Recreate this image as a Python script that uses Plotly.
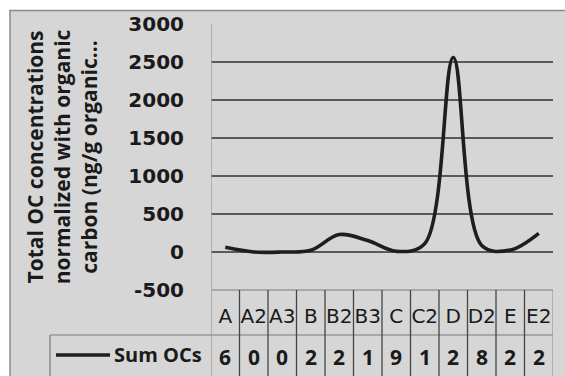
import plotly.graph_objects as go

# ---- data ----
categories = ["A", "A2", "A3", "B", "B2", "B3", "C", "C2", "D", "D2", "E", "E2"]
sum_ocs = [62, 0.5, 0.3, 22, 230, 150, 9, 110, 2560, 85, 25, 245]
series_name = "Sum OCs"
y_tickvals = [-500, 0, 500, 1000, 1500, 2000, 2500, 3000]
y_ticktext = ["-500", "0", "500", "1000", "1500", "2000", "2500", "3000"]
y_title = "Total OC concentrations<br>normalized with organic<br>carbon (ng/g organic..."

# table cell text (Excel truncates the numbers in the narrow columns)
cell_text = [f"{v:g}"[0] for v in sum_ocs]

W, H = 565, 376
ML, MR, MT, MB = 211, 12, 24, 86
PW, PH = W - ML - MR, H - MT - MB


def px_x(px):
    return (px - ML) / PW


def px_y(py):
    return (H - MB - py) / PH


BG = "#d6d6d6"
GRID = "#5a5a5a"
TABLE = "#7a7a7a"
TXT = "#1a1a1a"

fig = go.Figure()
fig.add_trace(go.Scatter(
    x=categories, y=sum_ocs, mode="lines", name=series_name,
    line=dict(color="#1e1e1e", width=3.6, shape="spline", smoothing=1.0),
    showlegend=False,
))

shapes = []
# outer gray chart area
shapes.append(dict(type="rect", xref="paper", yref="paper", layer="below",
                   x0=px_x(10), x1=px_x(566), y0=px_y(10.5), y1=px_y(377),
                   fillcolor=BG, line=dict(color="#8a8a8a", width=1.5)))
# table horizontal lines
y_top = px_y(290)
y_mid = px_y(335)
y_bot = px_y(377)
shapes.append(dict(type="line", xref="x", yref="paper", x0=-0.5, x1=len(categories) - 0.5,
                   y0=y_top, y1=y_top, line=dict(color=TABLE, width=1.2)))
shapes.append(dict(type="line", xref="paper", yref="paper", x0=px_x(50), x1=1.0,
                   y0=y_mid, y1=y_mid, line=dict(color=TABLE, width=1.2)))
# legend cell left border
shapes.append(dict(type="line", xref="paper", yref="paper", x0=px_x(50), x1=px_x(50),
                   y0=y_mid, y1=y_bot, line=dict(color=TABLE, width=1.2)))
# vertical table lines at category boundaries
for i in range(len(categories) + 1):
    shapes.append(dict(type="line", xref="x", yref="paper", x0=i - 0.5, x1=i - 0.5,
                       y0=y_bot, y1=y_top if i > 0 else 1.0,
                       line=dict(color="#444444" if 0 < i < len(categories) else "#9a9a9a",
                                 width=1.3)))
# legend key line
shapes.append(dict(type="line", xref="paper", yref="paper", x0=px_x(56), x1=px_x(110),
                   y0=px_y(355), y1=px_y(355), line=dict(color="#1e1e1e", width=3.4)))

annotations = []
for c, t in zip(categories, cell_text):
    annotations.append(dict(x=c, y=px_y(357), xref="x", yref="paper", text=t,
                            showarrow=False, xanchor="center", yanchor="middle",
                            font=dict(family="Open Sans", size=21, color=TXT, weight="bold")))
annotations.append(dict(x=px_x(204), y=px_y(354), xref="paper", yref="paper", text=series_name,
                        showarrow=False, xanchor="right", yanchor="middle",
                        font=dict(family="Open Sans", size=20, color=TXT, weight="bold")))

fig.update_layout(
    width=W, height=H,
    margin=dict(l=ML, r=MR, t=MT, b=MB),
    paper_bgcolor="white", plot_bgcolor=BG,
    shapes=shapes, annotations=annotations,
    xaxis=dict(type="category", range=[-0.5, len(categories) - 0.5], showgrid=False,
               zeroline=False, showline=False, ticks="", ticklabelstandoff=12,
               tickfont=dict(family="DejaVu Sans", size=20, color=TXT)),
    yaxis=dict(range=[-500, 3000], tickvals=y_tickvals, ticktext=y_ticktext,
               showgrid=True, gridcolor=GRID, gridwidth=1.8, zeroline=False,
               showline=False, ticks="", ticklabelstandoff=26,
               tickfont=dict(family="DejaVu Sans", size=20, color=TXT, weight="bold"),
               title=dict(text=y_title, standoff=24,
                          font=dict(family="Open Sans", size=21, color=TXT, weight="bold"))),
)

fig.write_html("out.html")
